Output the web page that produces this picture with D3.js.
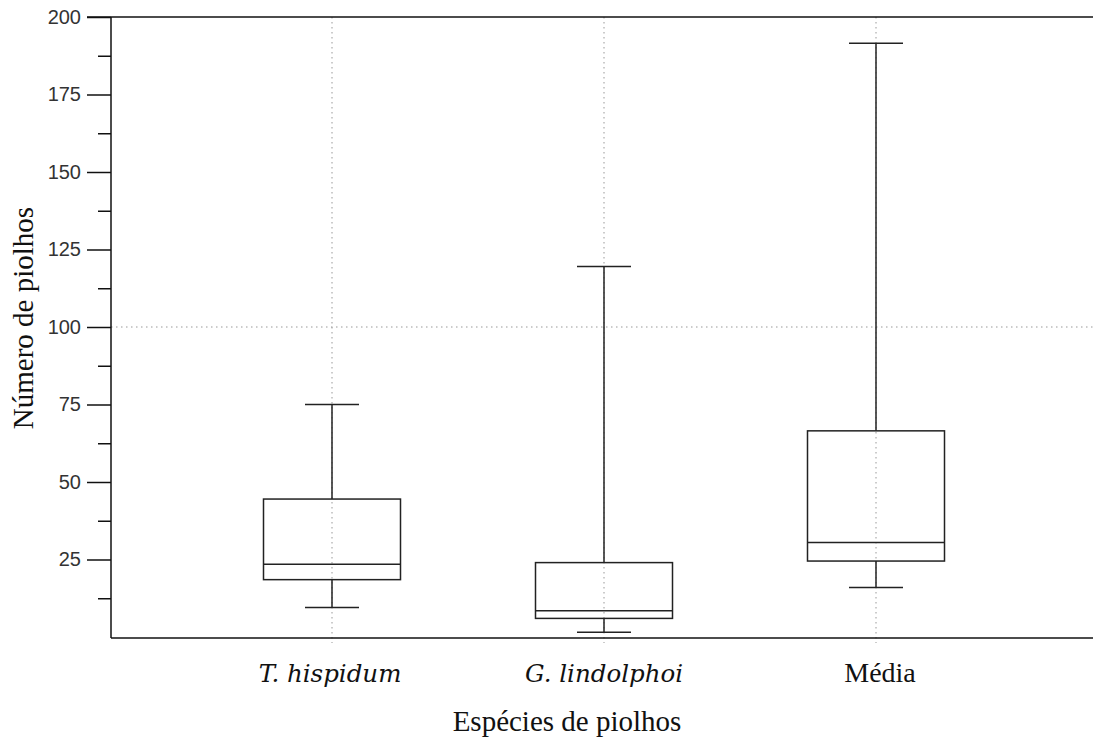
<!DOCTYPE html>
<html><head><meta charset="utf-8">
<script src="https://cdn.jsdelivr.net/npm/d3@7"></script>
<style>body{margin:0;background:#fff}svg{display:block}</style>
</head><body>
<svg id="c" width="1093" height="742"></svg>
<script>
const categories = ["T. hispidum", "G. lindolphoi", "Média"];
const italicCats = [true, true, false];
const whiskerLow = [9.5, 1.5, 16];
const q1 = [18.5, 6, 24.5];
const median = [23.5, 8.5, 30.5];
const q3 = [44.5, 24, 66.5];
const whiskerHigh = [75, 119.5, 191.5];
const majorTicks = [25, 50, 75, 100, 125, 150, 175, 200];
const minorTicks = [12.5, 37.5, 62.5, 87.5, 112.5, 137.5, 162.5, 187.5];
const gridY = [100];
const yTitle = "Número de piolhos";
const xTitle = "Espécies de piolhos";

const svg = d3.select("#c");
const L = 111, R = 1093, T = 17, B = 638;
const y = d3.scaleLinear().domain([0, 200]).range([B - 1, T]);
const x = d3.scalePoint().domain(categories).range([L, 1097]).padding(0.8125);
const boxW = 137, capW = 54;

// grid
const grid = svg.append("g").attr("stroke", "#999").attr("stroke-dasharray", "1.5,3.5").attr("stroke-width", 1);
grid.selectAll("line.v").data(categories).join("line")
  .attr("x1", d => x(d)).attr("x2", d => x(d)).attr("y1", T).attr("y2", B + 5);
grid.selectAll("line.h").data(gridY).join("line")
  .attr("x1", L).attr("x2", R).attr("y1", d => y(d)).attr("y2", d => y(d));

// axes
const yAxis = svg.append("g").attr("transform", `translate(${L},0)`)
  .call(d3.axisLeft(y).tickValues(majorTicks).tickSize(24).tickPadding(6));
yAxis.select(".domain").remove();
yAxis.selectAll("line").attr("stroke", "#111").attr("stroke-width", 1.5);
yAxis.selectAll("text").attr("font-family", "'Liberation Sans', Arial, sans-serif").attr("font-size", 20).attr("fill", "#333");
const yMinor = svg.append("g").attr("transform", `translate(${L},0)`)
  .call(d3.axisLeft(y).tickValues(minorTicks).tickSize(13).tickFormat(""));
yMinor.select(".domain").remove();
yMinor.selectAll("line").attr("stroke", "#111").attr("stroke-width", 1.5);

svg.append("line").attr("x1", L).attr("x2", L).attr("y1", T).attr("y2", B).attr("stroke", "#111").attr("stroke-width", 1.5);
svg.append("line").attr("x1", L).attr("x2", R).attr("y1", B).attr("y2", B).attr("stroke", "#111").attr("stroke-width", 1.5);
svg.append("line").attr("x1", L - 24).attr("x2", R).attr("y1", T).attr("y2", T).attr("stroke", "#111").attr("stroke-width", 1.5);

// boxes
const data = categories.map((c, i) => ({c, lo: whiskerLow[i], q1: q1[i], med: median[i], q3: q3[i], hi: whiskerHigh[i], it: italicCats[i]}));
const g = svg.append("g").attr("stroke", "#222").attr("stroke-width", 1.5).attr("fill", "none");
const bx = g.selectAll("g").data(data).join("g");
bx.append("line").attr("x1", d => x(d.c)).attr("x2", d => x(d.c)).attr("y1", d => y(d.hi)).attr("y2", d => y(d.q3));
bx.append("line").attr("x1", d => x(d.c)).attr("x2", d => x(d.c)).attr("y1", d => y(d.q1)).attr("y2", d => y(d.lo));
bx.append("line").attr("x1", d => x(d.c) - capW / 2).attr("x2", d => x(d.c) + capW / 2).attr("y1", d => y(d.hi)).attr("y2", d => y(d.hi));
bx.append("line").attr("x1", d => x(d.c) - capW / 2).attr("x2", d => x(d.c) + capW / 2).attr("y1", d => y(d.lo)).attr("y2", d => y(d.lo));
bx.append("rect").attr("x", d => x(d.c) - boxW / 2).attr("width", boxW)
  .attr("y", d => y(d.q3)).attr("height", d => y(d.q1) - y(d.q3));
bx.append("line").attr("x1", d => x(d.c) - boxW / 2).attr("x2", d => x(d.c) + boxW / 2).attr("y1", d => y(d.med)).attr("y2", d => y(d.med));

// x labels
svg.append("g").selectAll("text").data(data).join("text")
  .attr("x", (d, i) => x(d.c) + (i === 0 ? -2 : (i === 2 ? 4 : 0))).attr("y", 682).attr("text-anchor", "middle")
  .attr("font-family", d => d.it ? "'DejaVu Serif', serif" : "'Liberation Serif', 'Times New Roman', serif")
  .attr("font-style", d => d.it ? "italic" : "normal")
  .attr("font-size", d => d.it ? 24.5 : 28)
  .attr("fill", "#111")
  .text(d => d.c);

svg.append("text").attr("x", 567).attr("y", 731).attr("text-anchor", "middle")
  .attr("font-family", "'Liberation Serif', 'Times New Roman', serif").attr("font-size", 29).attr("fill", "#111")
  .text(xTitle);
svg.append("text").attr("transform", "translate(33,318) rotate(-90)").attr("text-anchor", "middle")
  .attr("font-family", "'Liberation Serif', 'Times New Roman', serif").attr("font-size", 29).attr("fill", "#111")
  .text(yTitle);
</script>
</body></html>
